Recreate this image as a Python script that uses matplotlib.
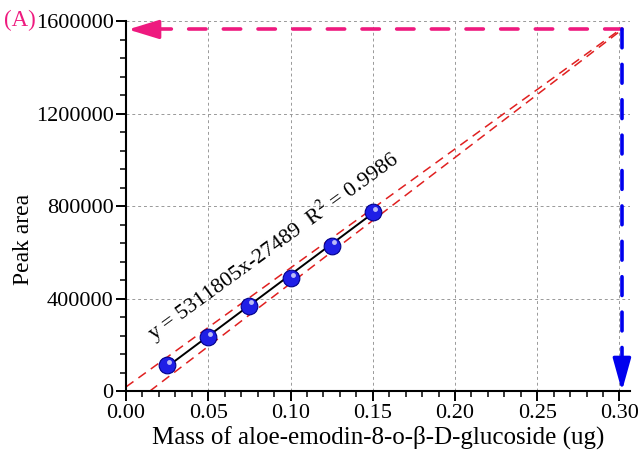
import matplotlib
matplotlib.use("Agg")
import matplotlib.pyplot as plt
import numpy as np
from matplotlib.ticker import MultipleLocator, FormatStrFormatter
from matplotlib.transforms import ScaledTranslation

plt.rcParams['font.family'] = ['Liberation Serif', 'DejaVu Serif']
plt.rcParams['mathtext.fontset'] = 'stix'

# ---------- data ----------
mass = [0.025, 0.05, 0.075, 0.10, 0.125, 0.15]
peak_area = [112000, 233000, 369000, 488000, 630000, 773000]
slope, intercept = 5311805, -27489
r2 = 0.9986

# confidence band end points
band_upper_x = [0.0, 0.2995]
band_upper_y = [18000, 1560000]
band_lower_x = [0.0145, 0.2995]
band_lower_y = [0, 1553000]

# target point marked by arrows
target_x = 0.3015
target_y = 1565000

pink = '#ee1a7f'
blue = '#0000ee'

fig = plt.figure(figsize=(6.43, 4.65), dpi=100)
ax = fig.add_axes([0.196, 0.159, 0.784, 0.795])

# grid
ax.grid(True, color='#999999', linestyle=(0, (3, 3)), linewidth=0.7)
ax.set_axisbelow(True)

# bands
ax.plot(band_upper_x, band_upper_y, color='#e02020', lw=1.1, ls=(0, (6, 4)))
ax.plot(band_lower_x, band_lower_y, color='#e02020', lw=1.1, ls=(0, (6, 4)))

# fit line
fx = np.array([mass[0], mass[-1]])
ax.plot(fx, slope * fx + intercept, color='black', lw=1.4)

# spheres
ax.plot(mass, peak_area, 'o', ms=12, color='#1f1fe6', mec='#00008b', mew=0.8, zorder=5)
hl = ax.transData + ScaledTranslation(1.5 / 72, 2.5 / 72, fig.dpi_scale_trans)
ax.plot(mass, peak_area, 'o', ms=3.5, color='white', alpha=0.7, mec='none',
        transform=hl, zorder=6)

# horizontal pink arrow
ax.plot([target_x, 0.012], [target_y, target_y], color=pink, lw=2.6,
        ls=(0, (4.8, 4.8)), dash_capstyle='round')
ax.annotate('', xy=(0.0012, target_y), xytext=(20, 0), textcoords='offset points',
            arrowprops=dict(arrowstyle='-|>,head_length=0.85,head_width=0.26',
                            color=pink, lw=2.4, mutation_scale=22, shrinkA=0, shrinkB=0))

# vertical blue arrow
ax.plot([target_x, target_x], [target_y, 90000], color=blue, lw=2.6,
        ls=(0, (5.2, 4.6)), dash_capstyle='round', zorder=4)
ax.annotate('', xy=(target_x, 0), xytext=(0, 22), textcoords='offset points',
            arrowprops=dict(arrowstyle='-|>,head_length=0.9,head_width=0.25',
                            color=blue, lw=2.4, mutation_scale=22, shrinkA=0, shrinkB=0))

# equation
ax.text(0.0898, 626000, f'y = {slope}x{intercept}  R$^2$ = {r2}', rotation=36,
        rotation_mode='anchor', ha='center', va='center', fontsize=15.8)

ax.set_xlim(0, 0.3065)
ax.set_ylim(0, 1600000)
ax.xaxis.set_major_locator(MultipleLocator(0.05))
ax.xaxis.set_minor_locator(MultipleLocator(0.01))
ax.yaxis.set_major_locator(MultipleLocator(400000))
ax.yaxis.set_minor_locator(MultipleLocator(80000))
ax.xaxis.set_major_formatter(FormatStrFormatter('%.2f'))
ax.yaxis.set_major_formatter(FormatStrFormatter('%d'))

for s in ('top', 'right'):
    ax.spines[s].set_visible(False)
for s in ('left', 'bottom'):
    ax.spines[s].set_linewidth(1.5)
ax.tick_params(which='major', direction='out', length=7, width=1.4, labelsize=16, pad=2)
ax.tick_params(which='minor', direction='out', length=4, width=1.1)

ax.set_xlabel('Mass of aloe-emodin-8-o-β-D-glucoside (ug)', fontsize=18, labelpad=2)
ax.set_ylabel('Peak area', fontsize=17)
ax.yaxis.set_label_coords(-0.183, 0.41)

fig.text(0.006, 0.955, '(A)', color=pink, fontsize=16.5, va='center')

fig.savefig('out.png', dpi=100)
